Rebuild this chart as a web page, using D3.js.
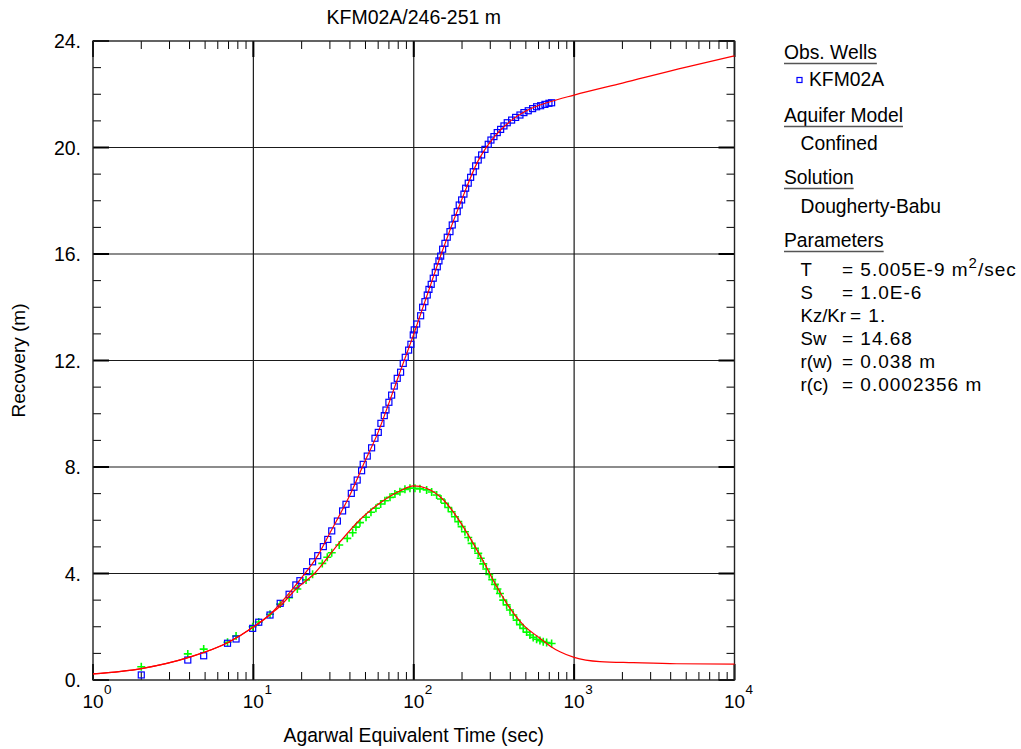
<!DOCTYPE html>
<html>
<head>
<meta charset="utf-8">
<script src="https://cdn.jsdelivr.net/npm/d3@7"></script>
<style>
  body { margin: 0; background: #fff; }
  svg { display: block; }
  text { font-family: Arial, "Liberation Sans", sans-serif; fill: #000; }
</style>
</head>
<body>
<svg id="chart" width="1021" height="749"></svg>
<script>
// Observed recovery at KFM02A (Agarwal equivalent time, s -> recovery, m)
const recTime = [2.0, 3.9, 4.9, 6.9, 7.8, 9.9, 10.8, 12.7, 14.7, 16.7, 18.4, 19.5, 21.5, 23.4, 25.2, 27.3, 29.1, 30.8, 33.4, 36.0,
  37.8, 40.8, 42.4, 44.4, 47.3, 48.4, 51.3, 54.6, 57.3, 60.1, 62.4, 65.5, 67.1, 70.0, 72.8, 75.6, 78.9, 82.8, 86.0, 88.5,
  92.9, 96.0, 99.3, 100.7, 104.3, 110.4, 113.6, 117.4, 121.4, 124.4, 128.5, 132.3, 136.2, 140.2, 143.6, 147.2, 151.4, 156.5, 161.8, 168.2,
  173.8, 180.6, 186.7, 192.1, 198.9, 205.6, 210.7, 218.7, 226.3, 235.0, 243.2, 252.4, 265.0, 277.9, 291.4, 302.9, 316.2, 331.6, 348.2, 365.1,
  382.8, 407.7, 431.8, 459.4, 486.4, 517.5, 551.1, 583.6, 618.3, 657.7, 696.5, 723.9];
const recValue = [0.19, 0.75, 0.91, 1.38, 1.54, 1.94, 2.17, 2.44, 2.88, 3.22, 3.57, 3.73, 4.07, 4.44, 4.67, 5.01, 5.28, 5.60, 5.97, 6.35,
  6.60, 7.01, 7.24, 7.51, 7.86, 8.10, 8.41, 8.72, 9.08, 9.30, 9.64, 9.93, 10.14, 10.43, 10.70, 11.04, 11.33, 11.56, 11.89, 12.12,
  12.39, 12.61, 12.96, 13.15, 13.37, 13.68, 14.00, 14.21, 14.46, 14.67, 14.86, 15.09, 15.31, 15.52, 15.74, 15.92, 16.18, 16.40, 16.63, 16.84,
  17.09, 17.34, 17.59, 17.84, 18.03, 18.25, 18.47, 18.66, 18.88, 19.09, 19.31, 19.53, 19.72, 19.93, 20.12, 20.28, 20.41, 20.56, 20.68, 20.81,
  20.93, 21.03, 21.13, 21.22, 21.31, 21.38, 21.46, 21.53, 21.57, 21.62, 21.66, 21.68];

// Derivative of the observed recovery
const derivTime = [2.0, 3.9, 4.9, 6.9, 7.8, 9.9, 10.8, 12.7, 14.7, 16.7, 18.8, 21.3, 23.4, 26.9, 28.9, 30.8, 34.3, 38.5, 41.6, 43.6,
  46.2, 50.4, 54.1, 58.1, 62.2, 66.1, 71.1, 76.3, 82.0, 88.1, 94.7, 101.7, 109.3, 120.3, 129.3, 138.9, 147.8, 156.5, 164.1, 172.3,
  180.6, 189.5, 198.9, 208.5, 218.7, 229.6, 240.8, 252.4, 261.6, 271.2, 283.1, 295.6, 308.6, 320.7, 332.5, 344.7, 361.4, 379.5, 398.0, 417.3,
  438.1, 459.4, 481.6, 505.7, 530.2, 555.9, 583.6, 612.1, 641.8, 674.0, 723.9];
const derivValue = [0.50, 0.98, 1.16, 1.42, 1.65, 2.00, 2.18, 2.47, 2.85, 3.09, 3.42, 3.76, 3.97, 4.38, 4.61, 4.78, 5.07, 5.32, 5.53, 5.74,
  5.91, 6.11, 6.30, 6.45, 6.61, 6.73, 6.86, 6.99, 7.07, 7.16, 7.20, 7.20, 7.18, 7.14, 7.06, 6.95, 6.80, 6.64, 6.48, 6.32,
  6.13, 5.95, 5.76, 5.57, 5.35, 5.13, 4.95, 4.76, 4.57, 4.36, 4.17, 3.96, 3.77, 3.59, 3.42, 3.25, 3.00, 2.82, 2.63, 2.44,
  2.25, 2.08, 1.94, 1.80, 1.69, 1.60, 1.53, 1.48, 1.44, 1.41, 1.37];

// Dougherty-Babu type curve: recovery
const fitTime = [1, 2, 4, 7, 10, 12.7, 14.7, 19.5, 25.3, 30, 40, 50, 60, 70, 80, 100, 120, 150, 200, 250, 300, 400, 500, 700, 1000, 2000, 5000, 10000];
const fitValue = [0.23, 0.43, 0.86, 1.42, 1.99, 2.46, 2.87, 3.76, 4.69, 5.52, 6.95, 8.26, 9.31, 10.40, 11.38, 12.99, 14.38, 16.08, 18.07, 19.46, 20.21, 20.99, 21.37, 21.71, 21.97, 22.42, 23.02, 23.44];

// Dougherty-Babu type curve: derivative
const fitDerivTime = [1, 2, 4, 7, 10, 12.7, 14.7, 18.2, 24.2, 34.6, 46.0, 61.6, 82.0, 99.8, 119.8, 153.3, 185.6, 225.2, 272.4, 329.7, 379.5, 481.6, 612.1, 706.6, 815.7, 1000, 1448, 2336, 4355, 10000];
const fitDerivValue = [0.23, 0.43, 0.86, 1.42, 1.99, 2.46, 2.78, 3.38, 4.02, 5.18, 6.01, 6.65, 7.10, 7.29, 7.20, 6.76, 6.13, 5.32, 4.44, 3.50, 2.88, 2.07, 1.57, 1.28, 1.06, 0.85, 0.69, 0.65, 0.61, 0.60];

// Axis ticks
const xDecades = [1, 10, 100, 1000, 10000];
const xExponents = ["0", "1", "2", "3", "4"];
const yTicks = [0, 4, 8, 12, 16, 20, 24];
const yTickLabels = ["0.", "4.", "8.", "12.", "16.", "20.", "24."];

// Side panel
const wellName = "KFM02A";
const aquiferModel = "Confined";
const solutionName = "Dougherty-Babu";
const paramNames = ["T", "S", "Kz/Kr", "Sw", "r(w)", "r(c)"];
const paramValues = ["= 5.005E-9 m", "= 1.0E-6", "= 1.", "= 14.68", "= 0.038 m", "= 0.0002356 m"];

const svg = d3.select("#chart");
const plotL = 93, plotR = 734.5, plotT = 41, plotB = 680;
const x = d3.scaleLog().domain([1, 10000]).range([plotL, plotR]);
const y = d3.scaleLinear().domain([0, 24]).range([plotB, plotT]);

// grid lines
const grid = svg.append("g").attr("stroke", "#1a1a1a").attr("stroke-width", 1.2);
grid.selectAll("line.v").data(xDecades.slice(1, -1)).join("line").attr("class", "v")
  .attr("x1", d => x(d)).attr("x2", d => x(d)).attr("y1", plotT).attr("y2", plotB);
grid.selectAll("line.h").data(yTicks.slice(1, -1)).join("line").attr("class", "h")
  .attr("x1", plotL).attr("x2", plotR).attr("y1", d => y(d)).attr("y2", d => y(d));

// minor and major ticks on all four sides
const ticks = svg.append("g").attr("stroke", "#000");
const xMinor = [];
xDecades.slice(0, -1).forEach(d => { for (let k = 2; k <= 9; k++) xMinor.push(d * k); });
xMinor.forEach(t => {
  ticks.append("line").attr("x1", x(t)).attr("x2", x(t)).attr("y1", plotB).attr("y2", plotB - 8);
  ticks.append("line").attr("x1", x(t)).attr("x2", x(t)).attr("y1", plotT).attr("y2", plotT + 8);
});
xDecades.forEach(t => {
  ticks.append("line").attr("stroke-width", 2).attr("x1", x(t)).attr("x2", x(t)).attr("y1", plotB).attr("y2", plotB - 16);
  ticks.append("line").attr("stroke-width", 2).attr("x1", x(t)).attr("x2", x(t)).attr("y1", plotT).attr("y2", plotT + 16);
});
d3.range(0, 25).forEach(v => {
  const major = v % 4 === 0;
  const len = major ? 16 : 8;
  ticks.append("line").attr("stroke-width", major ? 2 : 1).attr("x1", plotL).attr("x2", plotL + len).attr("y1", y(v)).attr("y2", y(v));
  ticks.append("line").attr("stroke-width", major ? 2 : 1).attr("x1", plotR).attr("x2", plotR - len).attr("y1", y(v)).attr("y2", y(v));
});

// plot frame
svg.append("rect").attr("x", plotL).attr("y", plotT).attr("width", plotR - plotL).attr("height", plotB - plotT)
  .attr("fill", "none").attr("stroke", "#222").attr("stroke-width", 1.4);

// y tick labels
svg.append("g").selectAll("text").data(yTicks).join("text")
  .attr("x", 81).attr("y", d => y(d) + 7).attr("text-anchor", "end").attr("font-size", 19.5)
  .text((d, i) => yTickLabels[i]);

// x tick labels: 10 with exponent
const xl = svg.append("g");
xDecades.forEach((d, i) => {
  xl.append("text").attr("x", x(d)).attr("y", 708).attr("text-anchor", "middle").attr("font-size", 19).text("10");
  xl.append("text").attr("x", x(d) + 11).attr("y", 694).attr("font-size", 13.5).text(xExponents[i]);
});

// titles
svg.append("text").attr("x", (plotL + plotR) / 2).attr("y", 24).attr("text-anchor", "middle").attr("font-size", 19.5)
  .text("KFM02A/246-251 m");
svg.append("text").attr("x", (plotL + plotR) / 2).attr("y", 742).attr("text-anchor", "middle").attr("font-size", 19.3)
  .text("Agarwal Equivalent Time (sec)");
svg.append("text").attr("transform", `translate(25,${(plotT + plotB) / 2}) rotate(-90)`).attr("text-anchor", "middle")
  .attr("font-size", 19).text("Recovery (m)");

// observed derivative (green crosses)
const recPts = recTime.map((t, i) => [t, recValue[i]]);
const derPts = derivTime.map((t, i) => [t, derivValue[i]]);
svg.append("g").attr("stroke", "#00ff00").attr("stroke-width", 1.6).selectAll("path").data(derPts).join("path")
  .attr("d", d => `M${x(d[0]) - 4},${y(d[1])}h8M${x(d[0])},${y(d[1]) - 4}v8`);

// observed recovery (blue squares)
svg.append("g").attr("stroke", "#0000ff").attr("stroke-width", 1.2).attr("fill", "none")
  .selectAll("rect").data(recPts).join("rect")
  .attr("x", d => x(d[0]) - 3).attr("y", d => y(d[1]) - 3).attr("width", 6).attr("height", 6);

// fitted curves
const line = d3.line().x(d => x(d[0])).y(d => y(d[1])).curve(d3.curveMonotoneX);
svg.append("path").datum(fitTime.map((t, i) => [t, fitValue[i]]))
  .attr("d", line).attr("fill", "none").attr("stroke", "#ff0000").attr("stroke-width", 1.2);
svg.append("path").datum(fitDerivTime.map((t, i) => [t, fitDerivValue[i]]))
  .attr("d", line).attr("fill", "none").attr("stroke", "#ff0000").attr("stroke-width", 1.2);

// side panel
const lg = svg.append("g").attr("font-size", 19.3);
function header(label, yb) {
  const t = lg.append("text").attr("x", 784).attr("y", yb).text(label);
  const w = t.node().getComputedTextLength();
  lg.append("line").attr("x1", 784).attr("x2", 784 + w).attr("y1", yb + 4.5).attr("y2", yb + 4.5)
    .attr("stroke", "#555").attr("stroke-width", 1.5);
}
header("Obs. Wells", 59);
lg.append("rect").attr("x", 797).attr("y", 77.5).attr("width", 5).attr("height", 5)
  .attr("fill", "none").attr("stroke", "#0000ff").attr("stroke-width", 1.2);
lg.append("text").attr("x", 809).attr("y", 86).text(wellName);
header("Aquifer Model", 122);
lg.append("text").attr("x", 800.5).attr("y", 150).text(aquiferModel);
header("Solution", 184);
lg.append("text").attr("x", 800.5).attr("y", 213).text(solutionName);
header("Parameters", 247);
paramNames.forEach((p, i) => {
  const yb = 276 + i * 23;
  lg.append("text").attr("x", 800.5).attr("y", yb).attr("font-size", 18.6).text(p);
  const v = lg.append("text").attr("x", p === "Kz/Kr" ? 850 : 842).attr("y", yb)
    .attr("font-size", 19).attr("letter-spacing", 1.0).text(paramValues[i]);
  if (p === "T") {
    v.append("tspan").attr("dy", -8).attr("font-size", 15).text("2");
    v.append("tspan").attr("dy", 8).text("/sec");
  }
});
</script>
</body>
</html>
